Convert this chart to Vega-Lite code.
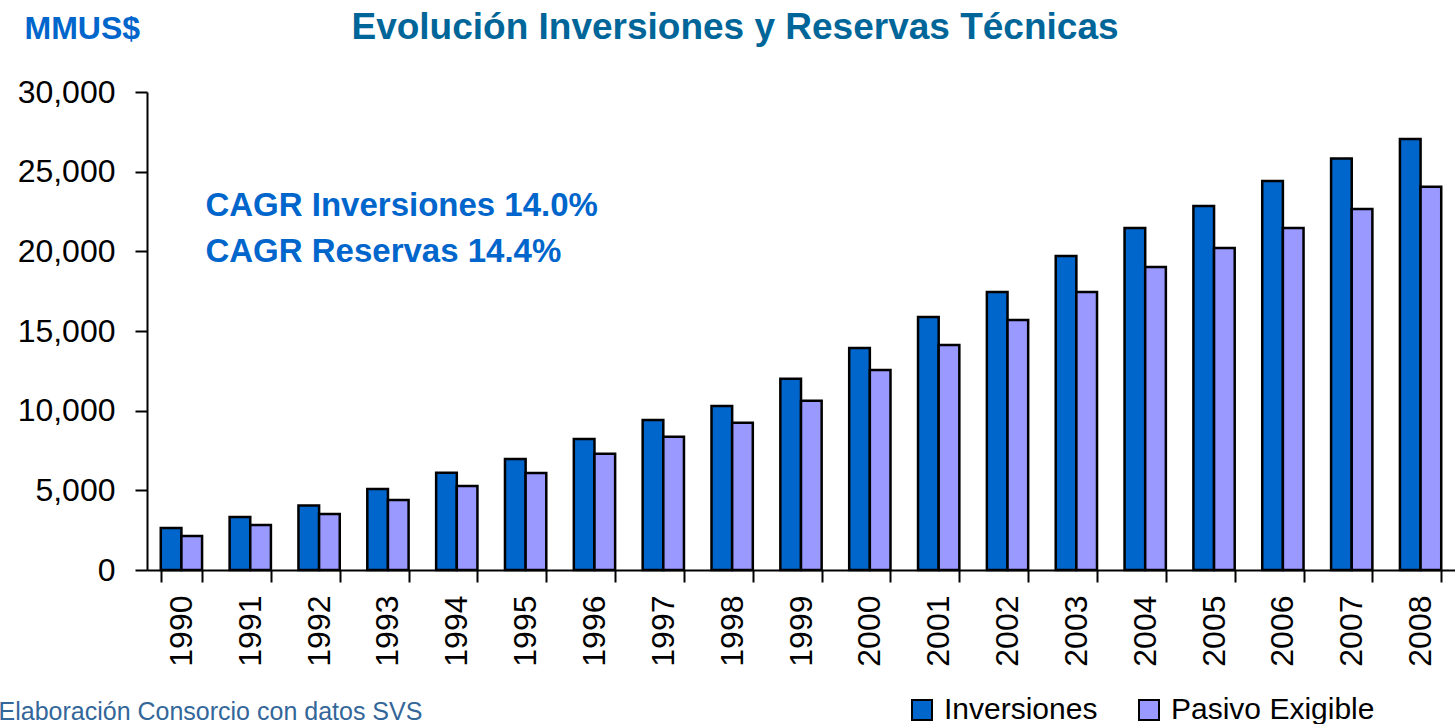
{
  "$schema": "https://vega.github.io/schema/vega-lite/v6.json",
  "autosize": "none",
  "width": 1308,
  "height": 478,
  "padding": {"left": 147, "top": 92, "right": 0, "bottom": 154},
  "background": "white",
  "config": {
    "view": {"stroke": null},
    "font": "Liberation Sans"
  },
  "title": {
    "text": "Evolución Inversiones y Reservas Técnicas",
    "font": "Liberation Sans",
    "fontSize": 37,
    "fontWeight": "bold",
    "color": "#006699",
    "anchor": "middle",
    "baseline": "alphabetic",
    "dx": -66,
    "offset": -64
  },
  "datasets": {
    "bars": [
      {"year": "1990", "serie": "Inversiones", "valor": 2640},
      {"year": "1990", "serie": "Pasivo Exigible", "valor": 2130},
      {"year": "1991", "serie": "Inversiones", "valor": 3330},
      {"year": "1991", "serie": "Pasivo Exigible", "valor": 2820},
      {"year": "1992", "serie": "Inversiones", "valor": 4050},
      {"year": "1992", "serie": "Pasivo Exigible", "valor": 3510},
      {"year": "1993", "serie": "Inversiones", "valor": 5080},
      {"year": "1993", "serie": "Pasivo Exigible", "valor": 4390},
      {"year": "1994", "serie": "Inversiones", "valor": 6100},
      {"year": "1994", "serie": "Pasivo Exigible", "valor": 5270},
      {"year": "1995", "serie": "Inversiones", "valor": 6970},
      {"year": "1995", "serie": "Pasivo Exigible", "valor": 6090},
      {"year": "1996", "serie": "Inversiones", "valor": 8220},
      {"year": "1996", "serie": "Pasivo Exigible", "valor": 7300},
      {"year": "1997", "serie": "Inversiones", "valor": 9410},
      {"year": "1997", "serie": "Pasivo Exigible", "valor": 8360},
      {"year": "1998", "serie": "Inversiones", "valor": 10290},
      {"year": "1998", "serie": "Pasivo Exigible", "valor": 9240},
      {"year": "1999", "serie": "Inversiones", "valor": 12000},
      {"year": "1999", "serie": "Pasivo Exigible", "valor": 10620},
      {"year": "2000", "serie": "Inversiones", "valor": 13930},
      {"year": "2000", "serie": "Pasivo Exigible", "valor": 12550},
      {"year": "2001", "serie": "Inversiones", "valor": 15880},
      {"year": "2001", "serie": "Pasivo Exigible", "valor": 14120},
      {"year": "2002", "serie": "Inversiones", "valor": 17450},
      {"year": "2002", "serie": "Pasivo Exigible", "valor": 15690},
      {"year": "2003", "serie": "Inversiones", "valor": 19710},
      {"year": "2003", "serie": "Pasivo Exigible", "valor": 17450},
      {"year": "2004", "serie": "Inversiones", "valor": 21460},
      {"year": "2004", "serie": "Pasivo Exigible", "valor": 19020},
      {"year": "2005", "serie": "Inversiones", "valor": 22850},
      {"year": "2005", "serie": "Pasivo Exigible", "valor": 20210},
      {"year": "2006", "serie": "Inversiones", "valor": 24410},
      {"year": "2006", "serie": "Pasivo Exigible", "valor": 21460},
      {"year": "2007", "serie": "Inversiones", "valor": 25820},
      {"year": "2007", "serie": "Pasivo Exigible", "valor": 22660},
      {"year": "2008", "serie": "Inversiones", "valor": 27050},
      {"year": "2008", "serie": "Pasivo Exigible", "valor": 24050}
    ],
    "notes": [
      {"year": "1990", "valor": 22200, "label": "CAGR Inversiones 14.0%\nCAGR Reservas 14.4%"}
    ]
  },
  "layer": [
    {
      "data": {"name": "bars"},
      "mark": {"type": "bar", "stroke": "black", "strokeWidth": 2.5},
      "encoding": {
        "x": {
          "field": "year",
          "type": "nominal",
          "scale": {"paddingInner": 0.4, "paddingOuter": 0.2},
          "axis": {
            "title": "Elaboración Consorcio con datos SVS",
            "titleFont": "Liberation Sans",
            "titleFontSize": 25,
            "titleFontWeight": "normal",
            "titleColor": "#336699",
            "titleAlign": "left",
            "titleAnchor": "start",
            "titleBaseline": "alphabetic",
            "titleX": -149,
            "titleY": 149,
            "labelAngle": 270,
            "labelFont": "Liberation Sans",
            "labelFontSize": 32,
            "labelColor": "black",
            "labelPadding": 13,
            "tickBand": "extent",
            "tickSize": 12,
            "tickColor": "black",
            "tickWidth": 2,
            "domainColor": "black",
            "domainWidth": 2,
            "grid": false
          }
        },
        "xOffset": {
          "field": "serie",
          "type": "nominal",
          "scale": {"paddingInner": 0, "paddingOuter": 0}
        },
        "y": {
          "field": "valor",
          "type": "quantitative",
          "scale": {"domain": [0, 30000], "nice": false},
          "axis": {
            "title": "MMUS$",
            "titleFont": "Liberation Sans",
            "titleFontSize": 32,
            "titleFontWeight": "bold",
            "titleColor": "#0066CC",
            "titleAngle": 0,
            "titleAlign": "left",
            "titleBaseline": "alphabetic",
            "titleX": -123,
            "titleY": -54,
            "values": [0, 5000, 10000, 15000, 20000, 25000, 30000],
            "format": ",.0f",
            "labelFont": "Liberation Sans",
            "labelFontSize": 32,
            "labelColor": "black",
            "labelPadding": 20,
            "tickSize": 12,
            "tickColor": "black",
            "tickWidth": 2,
            "domainColor": "black",
            "domainWidth": 2,
            "grid": false
          }
        },
        "color": {
          "field": "serie",
          "type": "nominal",
          "scale": {"domain": ["Inversiones", "Pasivo Exigible"], "range": ["#0066CC", "#9999FF"]},
          "legend": {
            "title": null,
            "orient": "none",
            "direction": "horizontal",
            "legendX": 760,
            "legendY": 603,
            "symbolType": "square",
            "symbolSize": 400,
            "symbolStrokeColor": "black",
            "symbolStrokeWidth": 2,
            "symbolOpacity": 1,
            "labelFont": "Liberation Sans",
            "labelFontSize": 30,
            "labelColor": "black",
            "labelOffset": 7,
            "columnPadding": 36,
            "labelLimit": 400
          }
        }
      }
    },
    {
      "data": {"name": "notes"},
      "mark": {
        "type": "text",
        "align": "left",
        "baseline": "alphabetic",
        "font": "Liberation Sans",
        "fontSize": 33,
        "fontWeight": "bold",
        "color": "#0066CC",
        "lineBreak": "\n",
        "lineHeight": 46,
        "dx": 24
      },
      "encoding": {
        "x": {"field": "year", "type": "nominal"},
        "y": {"field": "valor", "type": "quantitative"},
        "text": {"field": "label"}
      }
    }
  ]
}
